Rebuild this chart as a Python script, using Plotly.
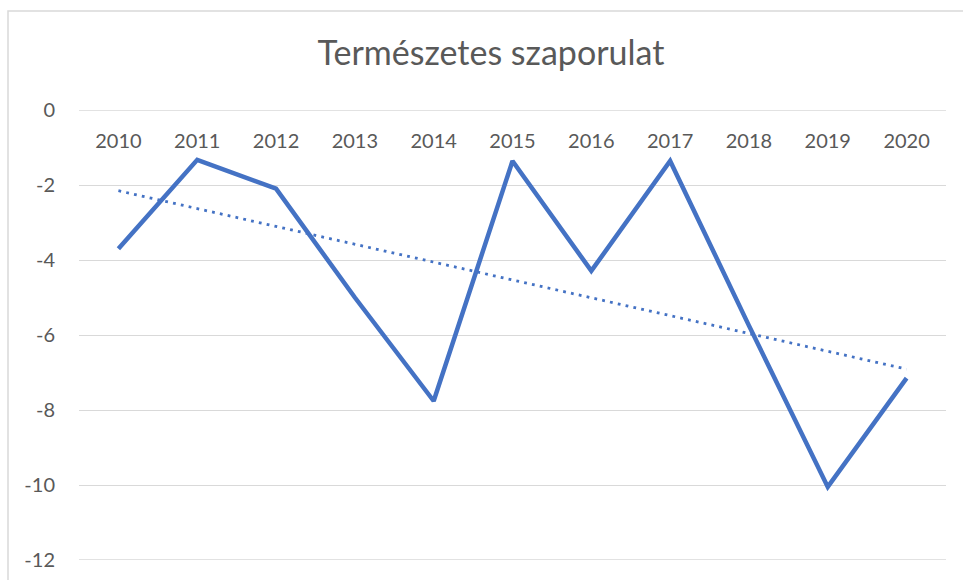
import numpy as np
import plotly.graph_objects as go

years = ["2010", "2011", "2012", "2013", "2014", "2015", "2016", "2017", "2018", "2019", "2020"]
values = [-3.7, -1.33, -2.1, -5.0, -7.76, -1.36, -4.29, -1.36, -5.75, -10.05, -7.15]
y_ticks = [0, -2, -4, -6, -8, -10, -12]

idx = np.arange(len(values))
slope, intercept = np.polyfit(idx, values, 1)
trend = slope * idx + intercept

W, H = 963, 580
ml, mr, mt, mb = 79, 17, 110, 20
blue = "#4472C4"
txt = "#595959"
grid = "#D9D9D9"
font_family = "Lato, 'Open Sans', sans-serif"

fig = go.Figure()
fig.add_trace(go.Scatter(x=years, y=values, mode="lines",
                         line=dict(color=blue, width=4.5), showlegend=False,
                         hoverinfo="x+y"))
fig.add_trace(go.Scatter(x=years, y=trend, mode="lines",
                         line=dict(color=blue, width=2.8, dash="2.8px,5.2px"),
                         showlegend=False, hoverinfo="skip"))

pw = W - ml - mr
ph = H - mt - mb
shapes = [dict(type="rect", xref="paper", yref="paper",
               x0=(8 - ml) / pw, x1=1.2, y0=-0.2, y1=1 + (mt - 11) / ph,
               line=dict(color=grid, width=1.5), layer="below")]
for v in (y_ticks[0], y_ticks[-1]):
    shapes.append(dict(type="line", xref="paper", yref="y", x0=0, x1=1, y0=v, y1=v,
                       line=dict(color=grid, width=1.3), layer="between"))

fig.update_layout(
    width=W, height=H,
    margin=dict(l=ml, r=mr, t=mt, b=mb),
    paper_bgcolor="white", plot_bgcolor="rgba(0,0,0,0)",
    font=dict(family=font_family, color=txt, size=20),
    title=dict(text="Természetes szaporulat", x=491 / W, xref="container",
               xanchor="center", y=1 - 53 / H, yref="container", yanchor="middle",
               font=dict(size=34, color=txt, family=font_family)),
    xaxis=dict(type="category", range=[-0.5, 10.5], anchor="free", position=1,
               side="bottom", showgrid=False, showline=False, zeroline=False,
               automargin=False,
               ticks="", ticklabelstandoff=17, tickfont=dict(size=20, color=txt)),
    yaxis=dict(range=[-12, 0], tickvals=y_ticks, ticktext=[str(v) for v in y_ticks],
               showgrid=True, gridcolor=grid, gridwidth=1.3, zeroline=False,
               showline=False, ticks="", ticklabelstandoff=23, automargin=False,
               tickfont=dict(size=20, color=txt)),
    shapes=shapes,
)

fig.write_html("out.html", config={"displayModeBar": False},
               post_script="document.body.style.margin='0';")
